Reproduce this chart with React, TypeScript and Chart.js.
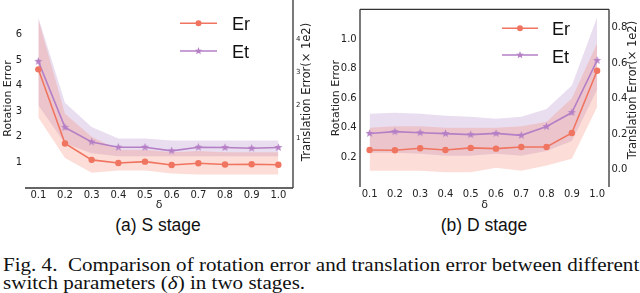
import React, { useEffect, useRef } from 'react';
import { Chart, registerables } from 'chart.js';

Chart.register(...registerables);

// ---------- data ----------
const deltas = [0.1, 0.2, 0.3, 0.4, 0.5, 0.6, 0.7, 0.8, 0.9, 1.0];

// (a) S stage
const sEr = [4.64, 1.74, 1.10, 0.98, 1.03, 0.90, 0.97, 0.92, 0.93, 0.91];
const sErLow = [2.76, 1.17, 0.60, 0.68, 0.68, 0.57, 0.53, 0.53, 0.53, 0.53];
const sErHigh = [6.6, 2.9, 2.0, 1.5, 1.5, 1.4, 1.45, 1.4, 1.4, 1.4];
const sEt = [3.32, 1.33, 0.89, 0.73, 0.73, 0.62, 0.73, 0.72, 0.70, 0.72];
const sEtLow = [2.0, 0.84, 0.55, 0.46, 0.46, 0.46, 0.46, 0.46, 0.46, 0.46];
const sEtHigh = [4.64, 2.07, 1.34, 0.99, 0.99, 0.93, 0.93, 0.93, 0.93, 0.93];
const sRotTicks = [1, 2, 3, 4, 5, 6];
const sTransTicks = [1, 2, 3, 4];

// (b) D stage
const dEr = [0.25, 0.248, 0.262, 0.25, 0.264, 0.259, 0.27, 0.27, 0.365, 0.785];
const dErLow = [0.11, 0.11, 0.11, 0.10, 0.10, 0.13, 0.11, 0.145, 0.19, 0.54];
const dErHigh = [0.40, 0.41, 0.41, 0.40, 0.40, 0.40, 0.41, 0.44, 0.60, 0.97];
const dEt = [0.203, 0.213, 0.207, 0.202, 0.196, 0.203, 0.192, 0.242, 0.321, 0.616];
const dEtLow = [0.093, 0.093, 0.088, 0.077, 0.077, 0.088, 0.077, 0.104, 0.16, 0.45];
const dEtHigh = [0.314, 0.32, 0.314, 0.303, 0.297, 0.286, 0.297, 0.341, 0.474, 0.86];
const dRotTicks = [0.2, 0.4, 0.6, 0.8, 1.0];
const dTransTicks = [0.0, 0.2, 0.4, 0.6, 0.8];

const seriesNames = ['Er', 'Et'];
const rotTitle = 'Rotation Error';
const transTitle = 'Translation Error(\u00d7 1e2)';
const xTitle = '\u03b4';

// ---------- styles ----------
const ER_COLOR = '#f07560';
const ET_COLOR = '#b57fc6';
const ER_BAND = 'rgba(245, 125, 100, 0.26)';
const ET_BAND = 'rgba(175, 135, 200, 0.28)';
const TEXT = '#222';
const SPINE = '#333';
const TICK_FONT = '"DejaVu Sans", sans-serif';

function drawStar(ctx: CanvasRenderingContext2D, cx: number, cy: number, R: number, color: string) {
  const r = R * 0.42;
  ctx.beginPath();
  for (let i = 0; i < 10; i++) {
    const ang = -Math.PI / 2 + (i * Math.PI) / 5;
    const rad = i % 2 === 0 ? R : r;
    const px = cx + rad * Math.cos(ang);
    const py = cy + rad * Math.sin(ang);
    if (i === 0) ctx.moveTo(px, py);
    else ctx.lineTo(px, py);
  }
  ctx.closePath();
  ctx.fillStyle = color;
  ctx.fill();
}

function makeStarImage(color: string, R: number) {
  const size = Math.ceil(R * 2 + 2);
  const c = document.createElement('canvas');
  c.width = size;
  c.height = size;
  const ctx = c.getContext('2d')!;
  drawStar(ctx, size / 2, size / 2, R, color);
  return c;
}

type Panel = {
  er: number[]; erLow: number[]; erHigh: number[];
  et: number[]; etLow: number[]; etHigh: number[];
  rotTicks: number[]; transTicks: number[];
  rotDec: number; transDec: number;
  xMin: number; xMax: number; yMin: number; yMax: number; y1Min: number; y1Max: number;
  top: number; leftW: number; rightW: number; xH: number; H: number;
  leftTitlePad: number; leftTickPad: number; rightTickPad: number; rightTickSize: number;
  rightTitleX: number; rightTitleY: number;
  spines: { left: boolean; top: boolean; right: boolean; bottom: boolean; topY?: number };
  legend: { x0: number; x1: number; xm: number; tx: number; ys: number[]; bases: number[] };
};

const panelA: Panel = {
  er: sEr, erLow: sErLow, erHigh: sErHigh, et: sEt, etLow: sEtLow, etHigh: sEtHigh,
  rotTicks: sRotTicks, transTicks: sTransTicks, rotDec: 0, transDec: 0,
  xMin: 0.05, xMax: 1.055, yMin: 0, yMax: 7, y1Min: -0.5, y1Max: 4.9,
  top: 1, leftW: 25, rightW: 27, xH: 24, H: 212,
  leftTitlePad: 1.5, leftTickPad: 3, rightTickPad: 3, rightTickSize: 7,
  rightTitleX: 307, rightTitleY: 92,
  spines: { left: false, top: false, right: true, bottom: true, topY: 0 },
  legend: { x0: 180, x1: 217, xm: 198.5, tx: 232, ys: [23.3, 51], bases: [30, 58] },
};

const panelB: Panel = {
  er: dEr, erLow: dErLow, erHigh: dErHigh, et: dEt, etLow: dEtLow, etHigh: dEtHigh,
  rotTicks: dRotTicks, transTicks: dTransTicks, rotDec: 1, transDec: 1,
  xMin: 0.062, xMax: 1.047, yMin: 0, yMax: 1.2, y1Min: -0.1, y1Max: 0.905,
  top: 5, leftW: 40, rightW: 31, xH: 25, H: 212,
  leftTitlePad: 9.4, leftTickPad: 3.3, rightTickPad: 2.5, rightTickSize: 10,
  rightTitleX: 313, rightTitleY: 90,
  spines: { left: true, top: true, right: true, bottom: false },
  legend: { x0: 182, x1: 218, xm: 200, tx: 232, ys: [28.3, 55], bases: [35, 63] },
};

function xy(vals: number[]) {
  return deltas.map((d, i) => ({ x: d, y: vals[i] }));
}

function PlotPanel({ cfg, left }: { cfg: Panel; left: number }) {
  const ref = useRef<HTMLCanvasElement | null>(null);
  useEffect(() => {
    const canvas = ref.current!;
    const star = makeStarImage(ET_COLOR, 4.3);
    const overlay = {
      id: 'overlay',
      afterDatasetsDraw(chart: any) {
        const { ctx, chartArea: a } = chart;
        ctx.save();
        // spines
        ctx.strokeStyle = SPINE;
        ctx.lineWidth = 1.3;
        const s = cfg.spines;
        const topY = s.topY !== undefined ? s.topY : a.top;
        ctx.beginPath();
        if (s.left) { ctx.moveTo(a.left, a.top); ctx.lineTo(a.left, a.bottom); }
        if (s.top) { ctx.moveTo(a.left, a.top); ctx.lineTo(a.right, a.top); }
        if (s.right) { ctx.moveTo(a.right, topY); ctx.lineTo(a.right, a.bottom); }
        if (s.bottom) { ctx.moveTo(a.left, a.bottom); ctx.lineTo(a.right, a.bottom); }
        ctx.stroke();
        // legend
        const L = cfg.legend;
        const colors = [ER_COLOR, ET_COLOR];
        for (let i = 0; i < 2; i++) {
          ctx.strokeStyle = colors[i];
          ctx.lineWidth = 1.6;
          ctx.beginPath();
          ctx.moveTo(L.x0, L.ys[i]);
          ctx.lineTo(L.x1, L.ys[i]);
          ctx.stroke();
          if (i === 0) {
            ctx.fillStyle = colors[i];
            ctx.beginPath();
            ctx.arc(L.xm, L.ys[i], 3, 0, Math.PI * 2);
            ctx.fill();
          } else {
            drawStar(ctx, L.xm, L.ys[i], 4, colors[i]);
          }
          ctx.fillStyle = '#111';
          ctx.font = '18px "Liberation Sans", Arial, sans-serif';
          ctx.textAlign = 'left';
          ctx.textBaseline = 'alphabetic';
          ctx.fillText(seriesNames[i], L.tx, L.bases[i]);
        }
        // right axis title (reads bottom to top)
        ctx.translate(cfg.rightTitleX, cfg.rightTitleY);
        ctx.rotate(-Math.PI / 2);
        ctx.fillStyle = TEXT;
        ctx.font = '11.5px ' + TICK_FONT;
        ctx.textAlign = 'center';
        ctx.textBaseline = 'middle';
        ctx.fillText(transTitle, 0, 0);
        ctx.restore();
      },
    };
    const band = (vals: number[], axis: string, color: string, fill: any) => ({
      data: xy(vals), yAxisID: axis, fill, backgroundColor: color,
      borderColor: 'transparent', borderWidth: 0, pointRadius: 0, tension: 0,
    });
    const chart = new Chart(canvas, {
      type: 'line',
      data: {
        datasets: [
          {
            label: seriesNames[0], data: xy(cfg.er), yAxisID: 'y', fill: false,
            borderColor: ER_COLOR, borderWidth: 1.6, pointStyle: 'circle', pointRadius: 3.2,
            pointBackgroundColor: ER_COLOR, pointBorderWidth: 0, tension: 0,
          },
          {
            label: seriesNames[1], data: xy(cfg.et), yAxisID: 'y1', fill: false,
            borderColor: ET_COLOR, borderWidth: 1.6, pointStyle: star as any, pointRadius: 4,
            pointBackgroundColor: ET_COLOR, pointBorderWidth: 0, tension: 0,
          },
          band(cfg.erHigh, 'y', ER_BAND, '+1'),
          band(cfg.erLow, 'y', 'transparent', false),
          band(cfg.etHigh, 'y1', ET_BAND, '+1'),
          band(cfg.etLow, 'y1', 'transparent', false),
        ] as any,
      },
      options: {
        animation: false,
        responsive: false,
        maintainAspectRatio: false,
        layout: { padding: { top: cfg.top, left: 0, right: 0, bottom: 0 } },
        plugins: { legend: { display: false }, tooltip: { enabled: false } },
        scales: {
          x: {
            type: 'linear', min: cfg.xMin, max: cfg.xMax,
            afterBuildTicks: (sc: any) => { sc.ticks = deltas.map((v) => ({ value: v })); },
            afterFit: (sc: any) => { sc.height = cfg.xH; },
            ticks: {
              callback: (v: any) => Number(v).toFixed(1), autoSkip: false, maxRotation: 0,
              font: { family: TICK_FONT, size: 10 }, color: TEXT, padding: 1.5,
            },
            grid: { display: false, drawTicks: false },
            border: { display: false },
            title: {
              display: true, text: xTitle, color: TEXT,
              font: { family: TICK_FONT, size: 11 }, padding: { top: 0, bottom: 0 },
            },
          },
          y: {
            type: 'linear', position: 'left', min: cfg.yMin, max: cfg.yMax,
            afterBuildTicks: (sc: any) => { sc.ticks = cfg.rotTicks.map((v) => ({ value: v })); },
            afterFit: (sc: any) => { sc.width = cfg.leftW; },
            ticks: {
              callback: (v: any) => Number(v).toFixed(cfg.rotDec), autoSkip: false,
              font: { family: TICK_FONT, size: 10 }, color: TEXT, padding: cfg.leftTickPad,
            },
            grid: { display: false, drawTicks: false },
            border: { display: false },
            title: {
              display: true, text: rotTitle, color: TEXT,
              font: { family: TICK_FONT, size: 11 }, padding: { top: cfg.leftTitlePad, bottom: 0 },
            },
          },
          y1: {
            type: 'linear', position: 'right', min: cfg.y1Min, max: cfg.y1Max,
            afterBuildTicks: (sc: any) => { sc.ticks = cfg.transTicks.map((v) => ({ value: v })); },
            afterFit: (sc: any) => { sc.width = cfg.rightW; },
            ticks: {
              callback: (v: any) => Number(v).toFixed(cfg.transDec), autoSkip: false,
              font: { family: TICK_FONT, size: cfg.rightTickSize }, color: TEXT, padding: cfg.rightTickPad,
            },
            grid: { display: false, drawTicks: false },
            border: { display: false },
          },
        },
      } as any,
      plugins: [overlay],
    });
    return () => chart.destroy();
  }, [cfg]);
  return (
    <canvas
      ref={ref}
      width={320}
      height={cfg.H}
      style={{ position: 'absolute', left, top: 0, width: 320, height: cfg.H }}
    />
  );
}

const capStyle: React.CSSProperties = {
  position: 'absolute', top: 215, width: 200, textAlign: 'center',
  font: '17.5px "Liberation Sans", Arial, sans-serif', lineHeight: '20px', color: '#111',
  whiteSpace: 'nowrap',
};

export default function App() {
  return (
    <div
      style={{
        position: 'absolute', left: 0, top: 0, width: 640, height: 293,
        overflow: 'hidden', background: '#fff',
      }}
    >
      <PlotPanel cfg={panelA} left={0} />
      <PlotPanel cfg={panelB} left={320} />
      <div style={{ ...capStyle, left: 158 - 100 }}>(a) S stage</div>
      <div style={{ ...capStyle, left: 484 - 100 }}>(b) D stage</div>
      <div
        style={{
          position: 'absolute', left: 3, top: 255.6, width: 700,
          font: '19px "Liberation Serif", "Times New Roman", serif', lineHeight: '18px',
          color: '#111', whiteSpace: 'pre', transform: 'scaleX(1.108)', transformOrigin: '0 0',
        }}
      >
        {'Fig. 4.  Comparison of rotation error and translation error between different\nswitch parameters ('}
        <i>{'\u03b4'}</i>
        {') in two stages.'}
      </div>
    </div>
  );
}
